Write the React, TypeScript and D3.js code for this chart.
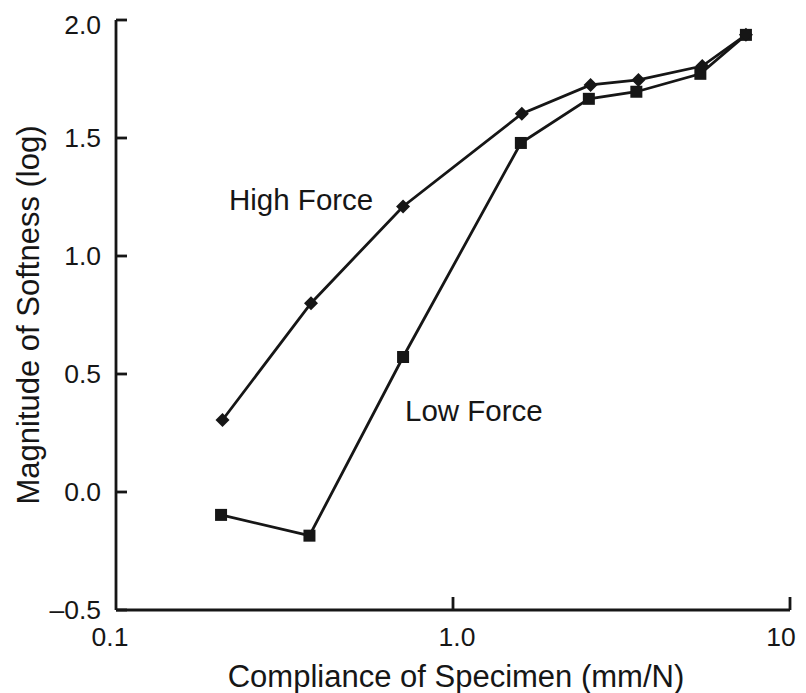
import React from "react";
import * as d3 from "d3";

const highX = [0.207, 0.379, 0.711, 1.6, 2.56, 3.55, 5.49, 7.4];
const highY = [0.305, 0.8, 1.21, 1.603, 1.725, 1.746, 1.805, 1.937];
const lowX = [0.205, 0.375, 0.711, 1.59, 2.53, 3.5, 5.42, 7.4];
const lowY = [-0.097, -0.185, 0.572, 1.479, 1.666, 1.696, 1.772, 1.937];
const xTicks = [0.1, 1, 10];
const xTickLabels = ["0.1", "1.0", "10"];
const yTicks = [-0.5, 0, 0.5, 1, 1.5, 2];
const yTickLabels = ["\u20130.5", "0.0", "0.5", "1.0", "1.5", "2.0"];

const W = 806;
const H = 693;
const M = { left: 116, top: 20, right: 16, bottom: 83 };
const FONT = "'Liberation Sans', Arial, Helvetica, sans-serif";
const INK = "#161616";

export default function App() {
  const x = d3.scaleLog().domain([0.1, 10]).range([M.left, W - M.right]);
  const y = d3.scaleLinear().domain([-0.5, 2]).range([H - M.bottom, M.top]);
  const line = d3
    .line<[number, number]>()
    .x((d) => x(d[0]))
    .y((d) => y(d[1]));
  const high: [number, number][] = highX.map((v, i) => [v, highY[i]]);
  const low: [number, number][] = lowX.map((v, i) => [v, lowY[i]]);
  const x0 = x(0.1);
  const yb = y(-0.5);
  const xLabelDx = [-6, 4, -9];
  return (
    <div style={{ position: "absolute", left: 0, top: 0 }}>
      <svg width={W} height={H} style={{ display: "block", background: "#fff" }}>
        {/* axes */}
        <line x1={x0} x2={x0} y1={y(2)} y2={yb} stroke={INK} strokeWidth={2.8} />
        <line x1={x0} x2={x(10)} y1={yb} y2={yb} stroke={INK} strokeWidth={2.8} />
        {yTicks.map((t, i) => (
          <g key={"yt" + i}>
            <line x1={x0} x2={x0 + 11} y1={y(t)} y2={y(t)} stroke={INK} strokeWidth={2.8} />
            <text
              x={x0 - 15}
              y={y(t) + (t === 2 ? 5 : 0)}
              textAnchor="end"
              dominantBaseline="central"
              fontFamily={FONT}
              fontSize={26.5}
              fill={INK}
            >
              {yTickLabels[i]}
            </text>
          </g>
        ))}
        {xTicks.map((t, i) => (
          <g key={"xt" + i}>
            {i > 0 && (
              <line x1={x(t)} x2={x(t)} y1={yb} y2={yb - 13} stroke={INK} strokeWidth={2.8} />
            )}
            <text
              x={x(t) + xLabelDx[i]}
              y={yb + 36}
              textAnchor="middle"
              fontFamily={FONT}
              fontSize={26.5}
              fill={INK}
            >
              {xTickLabels[i]}
            </text>
          </g>
        ))}
        {/* axis titles */}
        <text
          x={456}
          y={687}
          textAnchor="middle"
          fontFamily={FONT}
          fontSize={31}
          fill={INK}
        >
          Compliance of Specimen (mm/N)
        </text>
        <text
          transform={`translate(39, ${(y(2) + yb) / 2}) rotate(-90)`}
          textAnchor="middle"
          fontFamily={FONT}
          fontSize={31}
          fill={INK}
        >
          Magnitude of Softness (log)
        </text>
        {/* series */}
        <path d={line(low) || ""} fill="none" stroke={INK} strokeWidth={2.8} />
        <path d={line(high) || ""} fill="none" stroke={INK} strokeWidth={2.8} />
        {low.map((d, i) => (
          <rect
            key={"l" + i}
            x={x(d[0]) - 6}
            y={y(d[1]) - 6}
            width={12}
            height={12}
            fill={INK}
          />
        ))}
        {high.map((d, i) => (
          <path
            key={"h" + i}
            transform={`translate(${x(d[0])},${y(d[1])})`}
            d="M0,-7L7,0L0,7L-7,0Z"
            fill={INK}
          />
        ))}
        {/* labels */}
        <text x={229} y={210} fontFamily={FONT} fontSize={29.5} fill={INK}>
          High Force
        </text>
        <text x={405} y={421} fontFamily={FONT} fontSize={29.5} fill={INK}>
          Low Force
        </text>
      </svg>
    </div>
  );
}
